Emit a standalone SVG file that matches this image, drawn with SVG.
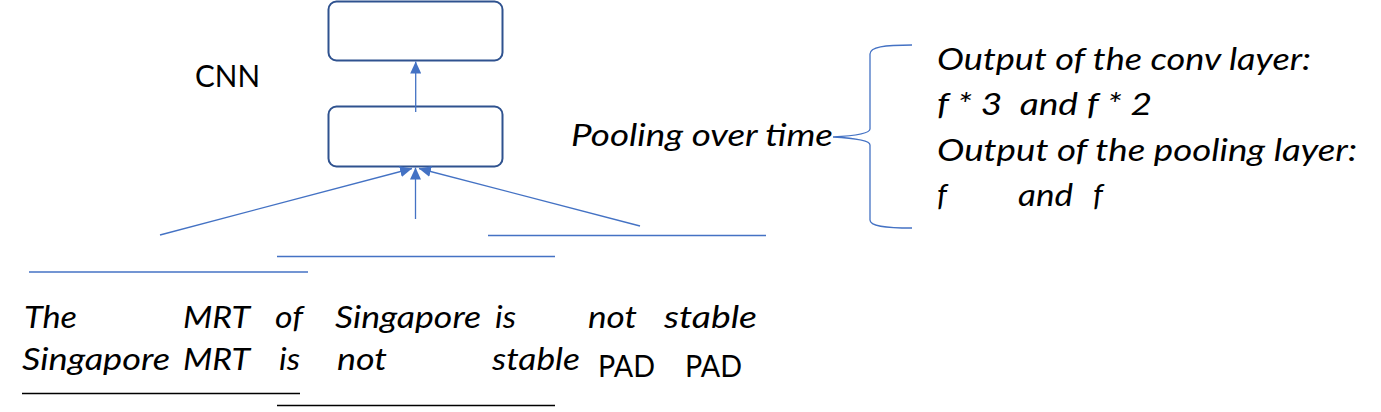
<svg xmlns="http://www.w3.org/2000/svg" width="1381" height="412" viewBox="0 0 1381 412">
<style>
.box{fill:#fff;stroke:#2F528F;stroke-width:2}
.conn{stroke:#4472C4;stroke-width:1.3;fill:none}
.blk{stroke:#000;stroke-width:1.5;fill:none}
.t{font-family:Lato,"Open Sans","Liberation Sans",sans-serif;font-size:31px;fill:#000}
.i{font-style:italic}
</style>
<defs>
<marker id="ah" markerUnits="userSpaceOnUse" markerWidth="12" markerHeight="11" refX="12" refY="5.5" orient="auto">
<path d="M0,0 L12,5.5 L0,11 z" fill="#4472C4"/>
</marker>
</defs>
<rect width="1381" height="412" fill="#fff"/>
<g id="node-top"><rect class="box" x="328.5" y="1.5" width="174" height="59" rx="8"/></g>
<g id="node-pool"><rect class="box" x="328.5" y="106.5" width="174" height="60" rx="8"/></g>
<g id="label-cnn"><text class="t" x="195" y="87" textLength="65" lengthAdjust="spacingAndGlyphs">CNN</text></g>
<g id="connectors">
<line class="conn" x1="415.7" y1="112" x2="415.7" y2="61.5" marker-end="url(#ah)"/>
<line class="conn" x1="415.5" y1="219" x2="415.5" y2="167.5" marker-end="url(#ah)"/>
<line class="conn" x1="160" y1="235" x2="412" y2="168.5" marker-end="url(#ah)"/>
<line class="conn" x1="640" y1="226" x2="419" y2="168.5" marker-end="url(#ah)"/>
<line class="conn" x1="488" y1="235.5" x2="766" y2="235.5"/>
<line class="conn" x1="277" y1="256.5" x2="555" y2="256.5"/>
<line class="conn" x1="29" y1="272" x2="308" y2="272"/>
<path class="conn" d="M912,45 C884,45 870,47 870,54 L870,129 C870,134 852,136 833,137 C852,138 870,140 870,145 L870,220 C870,226 884,228 912,228"/>
<line class="blk" x1="22" y1="393.5" x2="300" y2="393.5"/>
<line class="blk" x1="277" y1="405.5" x2="555" y2="405.5"/>
</g>
<g id="row1" class="t i">
<text x="24" y="328" textLength="53" lengthAdjust="spacingAndGlyphs">The</text>
<text x="183" y="328" textLength="67" lengthAdjust="spacingAndGlyphs">MRT</text>
<text x="275" y="328" textLength="28" lengthAdjust="spacingAndGlyphs">of</text>
<text x="335" y="328" textLength="146" lengthAdjust="spacingAndGlyphs">Singapore</text>
<text x="495" y="328" textLength="21" lengthAdjust="spacingAndGlyphs">is</text>
<text x="588" y="328" textLength="49" lengthAdjust="spacingAndGlyphs">not</text>
<text x="664" y="328" textLength="93" lengthAdjust="spacingAndGlyphs">stable</text>
</g>
<g id="row2" class="t">
<text class="i" x="22" y="370" textLength="148" lengthAdjust="spacingAndGlyphs">Singapore</text>
<text class="i" x="183" y="370" textLength="67" lengthAdjust="spacingAndGlyphs">MRT</text>
<text class="i" x="279" y="370" textLength="21" lengthAdjust="spacingAndGlyphs">is</text>
<text class="i" x="337" y="370" textLength="50" lengthAdjust="spacingAndGlyphs">not</text>
<text class="i" x="492" y="370" textLength="88" lengthAdjust="spacingAndGlyphs">stable</text>
<text x="598" y="377" textLength="57" lengthAdjust="spacingAndGlyphs">PAD</text>
<text x="685" y="377" textLength="57" lengthAdjust="spacingAndGlyphs">PAD</text>
</g>
<g id="label-pooling"><text class="t i" x="571" y="146" textLength="262" lengthAdjust="spacingAndGlyphs">Pooling over time</text></g>
<g id="label-output" class="t i">
<text x="937" y="70" textLength="374" lengthAdjust="spacingAndGlyphs">Output of the conv layer:</text>
<text x="937" y="115" textLength="215" lengthAdjust="spacingAndGlyphs" xml:space="preserve">f * 3  and f * 2</text>
<text x="937" y="161" textLength="420" lengthAdjust="spacingAndGlyphs">Output of the pooling layer:</text>
<text x="937" y="206">f</text>
<text x="1018" y="206" textLength="55" lengthAdjust="spacingAndGlyphs">and</text>
<text x="1093" y="206">f</text>
</g>
</svg>
